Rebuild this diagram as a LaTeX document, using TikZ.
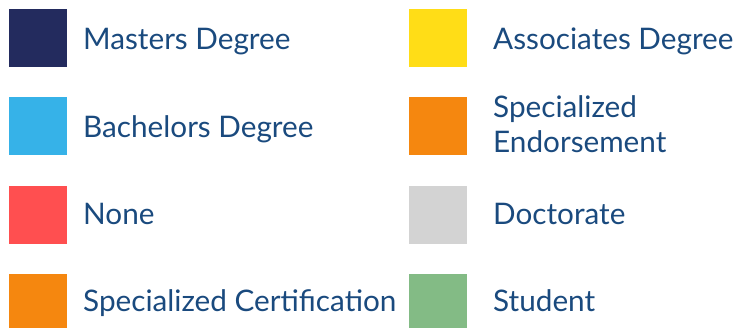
\documentclass[tikz,border=0pt]{standalone}
\usepackage{fontspec}
\setmainfont{Lato}
\usetikzlibrary{positioning}
\definecolor{navy}{HTML}{232B5E}
\definecolor{skyblue}{HTML}{36B2E8}
\definecolor{coral}{HTML}{FF4F50}
\definecolor{tangerine}{HTML}{F5870F}
\definecolor{sun}{HTML}{FFDD17}
\definecolor{silver}{HTML}{D3D3D3}
\definecolor{sage}{HTML}{83BB85}
\definecolor{inkblue}{HTML}{1A4A7E}

\begin{document}
\begin{tikzpicture}[x=1pt,y=1pt,
    swatch/.style={minimum size=58pt,inner sep=0pt,outer sep=0pt},
    lbl/.style={anchor=base west,inner sep=0pt,text=inkblue,
      font=\fontsize{29.7}{35}\selectfont,align=left}]
      \useasboundingbox (0,0) rectangle (734,328);

      % left column
      \node[swatch,fill=navy] (masters) at (38,290) {};
      \node[swatch,fill=skyblue] (bachelors) at (38,202) {};
      \node[swatch,fill=coral] (none) at (38,113) {};
      \node[swatch,fill=tangerine] (cert) at (38,25) {};
      \node[lbl] (tmasters) at (83,278) {Masters Degree};
      \node[lbl] (tbachelors) at (83,190) {Bachelors Degree};
      \node[lbl] (tnone) at (83,103) {None};
      \node[lbl] (tcert) at (83,16) {Specialized Certification};

      % right column
      \node[swatch,fill=sun] (assoc) at (438,290) {};
      \node[swatch,fill=tangerine] (endorse) at (438,202) {};
      \node[swatch,fill=silver] (doctor) at (438,113) {};
      \node[swatch,fill=sage] (student) at (438,25) {};
      \node[lbl] (tassoc) at (493,278) {Associates Degree};
      \node[lbl] (tendorse) at (493,175) {Specialized\\Endorsement};
      \node[lbl] (tdoctor) at (493,103) {Doctorate};
      \node[lbl] (tstudent) at (493,16) {Student};
    \end{tikzpicture}
\end{document}
